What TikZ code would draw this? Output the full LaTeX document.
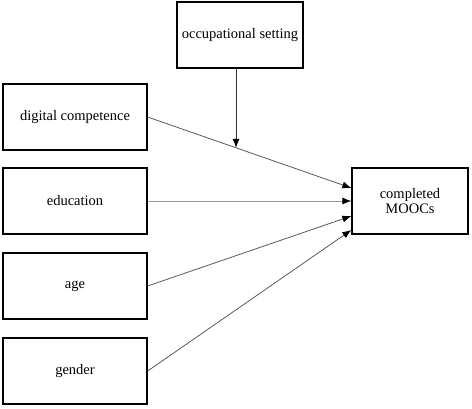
\documentclass[tikz,border=0pt]{standalone}
\usepackage{fontspec}
\setmainfont{Liberation Serif}
\usetikzlibrary{arrows.meta,calc}
\tikzset{
	varbox/.style={draw=black, line width=1.3pt, rectangle, minimum width=144pt, minimum height=66pt, align=center, font=\fontsize{14.5}{15.5}\selectfont},
	path/.style={draw=black!65, line width=0.8pt, -{Latex[length=9pt,width=7pt,color=black]}}
}
\begin{document}
\begin{tikzpicture}[x=1pt,y=-1pt]
		\useasboundingbox (0,0) rectangle (472,408);
		
		\node[varbox, minimum width=126pt] (occ) at (240,35){occupational setting};
		
		\node[varbox] (dig) at (75,117){digital competence};
		\node[varbox] (edu) at (75,201){education};
		\node[varbox] (age) at (75,286){age};
		\node[varbox] (gen) at (75,371){gender};
		
		\node[varbox, minimum width=116pt] (mooc) at (410,201){completed\\MOOCs};
		
		\draw[path] (dig.east) -- coordinate[pos=0.434] (mod) ([yshift=13pt]mooc.west);
		\draw[path, draw=black!40] (edu.east) -- (mooc.west);
		\draw[path] (age.east) -- ([yshift=-15pt]mooc.west);
		\draw[path] (gen.east) -- ([yshift=-29pt]mooc.west);
		
		\draw[path, draw=black!80] (mod |- occ.south) -- (mod);
	\end{tikzpicture}
\end{document}
